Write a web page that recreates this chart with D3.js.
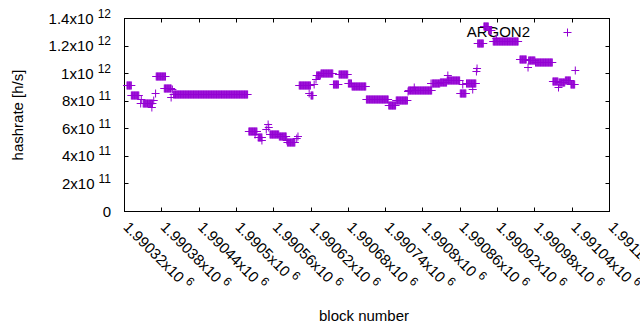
<!DOCTYPE html>
<html><head><meta charset="utf-8">
<script src="https://cdn.jsdelivr.net/npm/d3@7"></script>
<style>
body{margin:0;background:#fff}
text{font-family:"Liberation Sans",Arial,sans-serif;fill:#000}
</style>
</head><body>
<svg id="chart" width="640" height="330"></svg>
<script>
// ---- data ----
const seriesName = "ARGON2";
// runs of consecutive blocks sharing the same hashrate value
const runStart = [1990324,1990331,1990346,1990347,1990350,1990364,1990367,1990370,1990371,1990384,
  1990395,1990397,1990399,1990520,1990530,1990535,1990541,1990548,1990551,1990552,
  1990554,1990569,1990581,1990582,1990597,1990599,1990601,1990617,1990620,1990625,
  1990628,1990629,1990636,1990656,1990665,1990680,1990686,1990709,1990745,1990757,
  1990776,1990777,1990786,1990791,1990813,1990815,1990828,1990840,1990839,1990860,
  1990864,1990870,1990880,1990886,1990887,1990888,1990898,1990906,1990918,1990913,
  1990956,1990969,1990970,1990981,1991009,1991018,1991019,1991029,1991038,1991045];
const runEnd = [1990331,1990343,1990346,1990347,1990365,1990364,1990367,1990370,1990386,1990395,
  1990395,1990397,1990518,1990533,1990530,1990541,1990541,1990548,1990551,1990552,
  1990568,1990580,1990581,1990594,1990597,1990599,1990619,1990617,1990623,1990625,
  1990628,1990635,1990655,1990664,1990679,1990685,1990708,1990744,1990756,1990775,
  1990776,1990790,1990786,1990814,1990813,1990827,1990838,1990840,1990859,1990869,
  1990864,1990885,1990880,1990886,1990887,1990897,1990905,1990910,1990918,1990953,
  1990966,1990969,1990980,1991008,1991017,1991018,1991028,1991037,1991044,1991045];
const runHashrate = [9.13e11,8.41e11,7.86e11,8.11e11,7.82e11,7.57e11,8.06e11,8.55e11,9.76e11,8.95e11,
  8.28e11,8.86e11,8.47e11,5.83e11,5.56e11,5.36e11,5.14e11,5.94e11,6.29e11,6.09e11,
  5.58e11,5.45e11,5.14e11,5.02e11,5.31e11,5.47e11,9.13e11,8.59e11,8.45e11,9.20e11,
  9.59e11,9.90e11,1.000e12,9.22e11,9.93e11,9.32e11,9.10e11,8.11e11,7.69e11,8.06e11,
  8.71e11,8.79e11,9.03e11,8.76e11,9.28e11,9.28e11,9.39e11,9.83e11,9.47e11,8.59e11,
  9.20e11,9.25e11,8.84e11,1.012e12,1.037e12,1.219e12,1.340e12,1.316e12,1.256e12,1.234e12,
  1.103e12,1.044e12,1.093e12,1.081e12,9.42e11,8.98e11,9.37e11,9.49e11,9.20e11,1.024e12];

const xTickValues = [1990320,1990380,1990440,1990500,1990560,1990620,1990680,1990740,
  1990800,1990860,1990920,1990980,1991040,1991100];
const xTickMantissa = ["1.99032","1.99038","1.99044","1.9905","1.99056","1.99062","1.99068",
  "1.99074","1.9908","1.99086","1.99092","1.99098","1.99104","1.9911"];
const xTickExponent = "6";
const yTickValues = [0,2e11,4e11,6e11,8e11,1e12,1.2e12,1.4e12];
const yTickMantissa = ["0","2","4","6","8","1","1.2","1.4"];
const yTickExponent = ["","11","11","11","11","12","12","12"];
const xLabel = "block number";
const yLabel = "hashrate [h/s]";

// ---- drawing ----
const color = "#9400d3";
const svg = d3.select("#chart");
const L = 124.5, R = 609.5, T = 18.5, B = 211.5;
const x = d3.scaleLinear().domain([1990320, 1991100]).range([L, R]);
const y = d3.scaleLinear().domain([0, 1.4e12]).range([B, T]);

// expand runs into one point per block
const points = [];
runStart.forEach((s, i) => {
  for (let b = s; b <= runEnd[i]; b++) points.push({block: b, h: runHashrate[i]});
});

// border
svg.append("rect").attr("x", L).attr("y", T).attr("width", R - L).attr("height", B - T)
  .attr("fill", "none").attr("stroke", "#000").attr("stroke-width", 1);

const tl = 4;
// x ticks (bottom and top, inward)
const xt = svg.append("g");
xTickValues.forEach(v => {
  const px = Math.round(x(v) - 0.5) + 0.5;
  xt.append("line").attr("x1", px).attr("x2", px).attr("y1", B).attr("y2", B - tl).attr("stroke", "#000");
  xt.append("line").attr("x1", px).attr("x2", px).attr("y1", T).attr("y2", T + tl).attr("stroke", "#000");
});
// y ticks (left and right, inward)
yTickValues.forEach(v => {
  const py = Math.round(y(v) - 0.5) + 0.5;
  xt.append("line").attr("y1", py).attr("y2", py).attr("x1", L).attr("x2", L + tl).attr("stroke", "#000");
  xt.append("line").attr("y1", py).attr("y2", py).attr("x1", R).attr("x2", R - tl).attr("stroke", "#000");
});

// y tick labels
yTickValues.forEach((v, i) => {
  const t = svg.append("text").attr("x", 111).attr("y", y(v) + 5)
    .attr("text-anchor", "end").attr("font-size", 15);
  if (yTickExponent[i] === "") { t.text(yTickMantissa[i]); return; }
  t.append("tspan").text(yTickMantissa[i] + "x10");
  t.append("tspan").attr("dx", 4).attr("dy", -6).attr("font-size", 12).text(yTickExponent[i]);
});

// x tick labels (rotated)
xTickValues.forEach((v, i) => {
  const t = svg.append("text").attr("font-size", 15)
    .attr("transform", `translate(${x(v) - 2},${228}) rotate(45)`);
  t.append("tspan").text(xTickMantissa[i] + "x10");
  t.append("tspan").attr("dx", 4).attr("dy", -6).attr("font-size", 12).text(xTickExponent);
});

// axis labels
svg.append("text").attr("x", 364).attr("y", 321).attr("text-anchor", "middle")
  .attr("font-size", 15).text(xLabel);
svg.append("text").attr("transform", "translate(23,115) rotate(-90)").attr("text-anchor", "middle")
  .attr("font-size", 15).text(yLabel);

// key
svg.append("text").attr("x", 530).attr("y", 37).attr("text-anchor", "end")
  .attr("font-size", 15).text(seriesName);
const plus = (cx, cy) => `M${cx - 4},${cy}H${cx + 4}M${cx},${cy - 4}V${cy + 4}`;
svg.append("path").attr("d", plus(567.5, 32.5)).attr("stroke", color).attr("fill", "none");

// points
svg.append("g").selectAll("path").data(points).join("path")
  .attr("d", d => plus(x(d.block), Math.round(y(d.h) - 0.5) + 0.5))
  .attr("stroke", color).attr("stroke-width", 1).attr("fill", "none");
</script>
</body></html>
